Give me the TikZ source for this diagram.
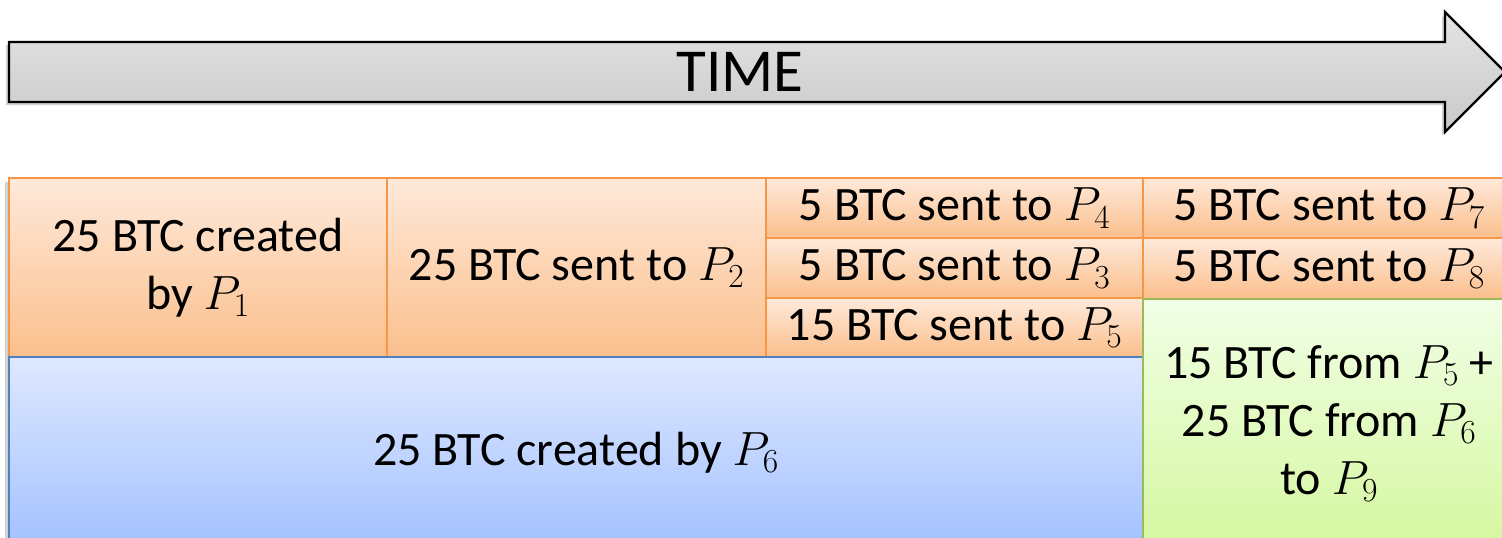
\RequirePackage{fix-cm}
\documentclass[tikz,border=0pt]{standalone}
\usepackage{fontspec}
\setmainfont{Carlito}
\definecolor{orT}{HTML}{FEE9DA}
\definecolor{orB}{HTML}{FBBF8C}
\definecolor{orD}{HTML}{F79646}
\definecolor{blT}{HTML}{DEE8FF}
\definecolor{blB}{HTML}{A3C1FF}
\definecolor{blD}{HTML}{4F81BD}
\definecolor{grT}{HTML}{F1FFE6}
\definecolor{grB}{HTML}{D5F7A0}
\definecolor{grD}{HTML}{9BBB59}
\definecolor{arT}{HTML}{E4E4E4}
\definecolor{arB}{HTML}{C9C9C9}
\begin{document}
\begin{tikzpicture}[x=1pt,y=-1pt,
  cellbase/.style={line width=1.5pt, inner sep=0pt, outer sep=0pt, anchor=north west,
    align=center, font=\fontsize{48}{58}\selectfont},
  orcell/.style={cellbase, draw=orD, top color=orT, bottom color=orB},
  blcell/.style={cellbase, draw=blD, top color=blT, bottom color=blB},
  grcell/.style={cellbase, draw=grD, top color=grT, bottom color=grB},
  shadowfill/.style={fill=black, opacity=0.18},
  timearrow/.style={draw=black, line width=2.2pt, line join=miter, top color=arT, bottom color=arB},
  timelabel/.style={font=\fontsize{61}{70}\selectfont, inner sep=0pt}
]
\useasboundingbox (0,0) rectangle (1502,538);

% arrow shadow
\fill[shadowfill] (6,45) -- (1442,45) -- (1442,15) -- (1501,75) -- (1442,135) -- (1442,105) -- (6,105) -- cycle;
% time arrow
\path[timearrow] (9,42) -- (1445,42) -- (1445,12) -- (1505,72) -- (1445,132) -- (1445,102) -- (9,102) -- cycle;
\node[timelabel] (time) at (740,72) {TIME};

% box shadow
\fill[shadowfill] (5,182) rectangle (1515,552);

% top row
\node[orcell, minimum width=378pt, minimum height=179pt] (c1) at (9,178) {25 BTC created\\by $P_1$};
\node[orcell, minimum width=379pt, minimum height=179pt] (c2) at (387,178) {25 BTC sent to $P_2$};
\node[orcell, minimum width=377pt, minimum height=60pt] (c3a) at (766,178) {5 BTC sent to $P_4$};
\node[orcell, minimum width=377pt, minimum height=60pt] (c3b) at (766,238) {5 BTC sent to $P_3$};
\node[orcell, minimum width=377pt, minimum height=59pt] (c3c) at (766,298) {15 BTC sent to $P_5$};
\node[orcell, minimum width=372pt, minimum height=60pt] (c4a) at (1143,178) {5 BTC sent to $P_7$};
\node[orcell, minimum width=372pt, minimum height=61pt] (c4b) at (1143,238) {5 BTC sent to $P_8$};

% bottom
\node[blcell, minimum width=1134pt, minimum height=191pt] (blue) at (9,357) {25 BTC created by $P_6$};
\node[grcell, minimum width=372pt, minimum height=249pt] (green) at (1143,299) {15 BTC from $P_5$ +\\25 BTC from $P_6$\\to $P_9$};
\end{tikzpicture}
\end{document}
